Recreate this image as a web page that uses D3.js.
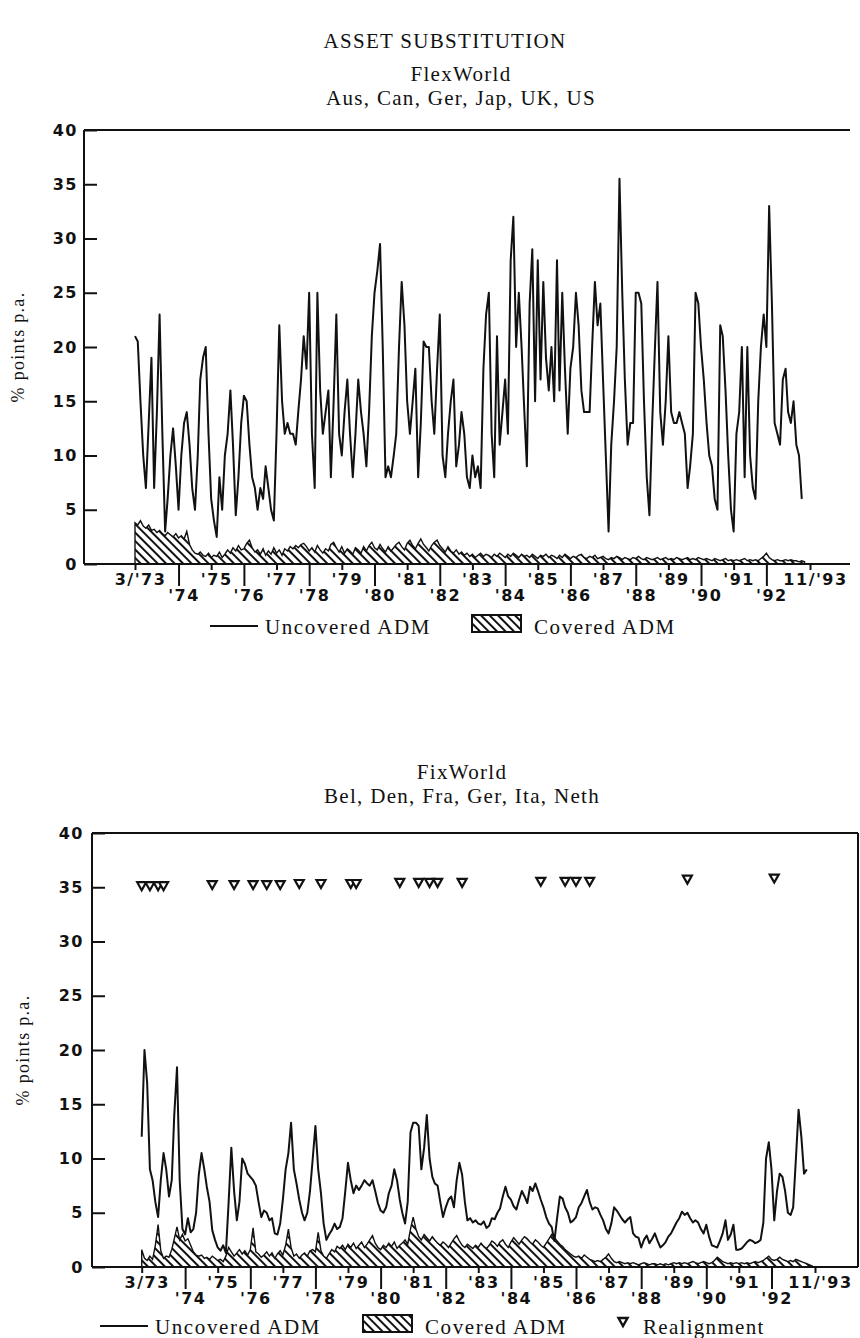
<!DOCTYPE html>
<meta charset="utf-8">
<script src="https://cdn.jsdelivr.net/npm/d3@7"></script>
<style>
body { margin: 0; background: #fff; }
text { fill: #111; }
.serif { font-family: "Liberation Serif", "Times New Roman", serif; }
.tick text, .ylab {
  font-family: "DejaVu Sans", sans-serif;
  font-weight: bold;
  font-size: 16px;
  letter-spacing: 1.5px;
}
.tick line { stroke: #111; stroke-width: 2; }
</style>
<body>
<div id="chart"></div>
<script>
// ---- data (monthly, starting 3/73) ----
var yTicks = [0, 5, 10, 15, 20, 25, 30, 35, 40];
var evenYears = [1974, 1976, 1978, 1980, 1982, 1984, 1986, 1988, 1990, 1992];
var oddYears = [1975, 1977, 1979, 1981, 1983, 1985, 1987, 1989, 1991];

var flexUncovered = [21,20.5,15,10,7,13,19,7,14,23,
  12,3,6,10,12.5,9,5,10,13,14,
  11,7,5,10,17,19,20,12,6,4,
  2.5,8,5,10,12,16,11,4.5,8,13,
  15.5,15,11,8,7,5,7,6,9,7,
  5,4,12,22,15,12,13,12,12,11,
  14,17,21,18,25,12,7,25,16,12,
  14,16,8,15,23,12,10,14,17,12,
  8,12,17,14,12,9,14,21,25,27,
  29.5,20,8,9,8,10,12,20,26,22,
  15,12,15,18,8,13,20.5,20,20,15,
  12,18,23,10,8,12,15,17,9,11,
  14,12,8,7,10,8,9,7,18,23,
  25,12,8,21,11,14,17,12,28,32,
  20,25,20,14,9,24,29,15,28,17,
  26,19,16,20,15,28,16,25,18,12,
  18,20,25,22,16,14,14,14,20,26,
  22,24,17,10,3,11,15,20,35.5,25,
  17,11,13,13,25,25,24,15,8,4.5,
  13,20,26,14,11,15,21,14,13,13,
  14,13,12,7,9,12,25,24,20,17,
  13,10,9,6,5,22,21,16,10,5,
  3,12,14,20,8,20,10,7,6,15,
  20,23,20,33,24,13,12,11,17,18,
  14,13,15,11,10,6];

var flexCovered = [3.8,3.6,4.0,3.5,3.3,3.6,3.1,3.2,2.9,3.1,
  2.8,2.6,2.9,2.7,2.5,2.8,2.4,2.6,2.3,3.0,
  1.8,1.3,1.0,0.9,1.1,0.8,0.7,1.0,0.6,0.8,
  0.7,1.1,0.6,0.9,1.3,1.0,1.5,1.2,1.7,1.3,
  1.4,1.9,2.2,1.5,1.1,1.3,0.9,1.4,0.8,1.2,
  0.9,1.5,1.0,1.3,0.8,1.4,1.2,1.6,1.4,1.7,
  1.5,1.8,1.9,1.6,1.2,1.5,1.1,1.7,1.3,1.0,
  1.4,1.2,1.8,2.0,1.5,1.1,1.6,1.0,1.4,1.2,
  0.9,1.5,1.3,1.0,1.6,1.2,1.7,2.0,1.5,1.3,
  1.8,1.4,1.1,1.6,1.2,1.5,1.8,2.0,1.6,1.3,
  1.9,2.2,1.7,1.4,1.9,2.3,1.8,1.5,1.2,1.7,
  2.0,2.2,1.7,1.4,1.1,1.6,1.2,1.0,1.3,0.9,
  1.1,0.8,1.0,0.7,0.9,0.6,0.8,1.0,0.7,0.9,
  0.8,0.6,0.9,0.7,1.0,0.8,0.6,0.9,0.7,1.0,
  0.8,0.6,0.9,0.7,0.8,0.6,0.9,0.7,0.5,0.8,
  0.7,0.9,0.6,0.8,0.7,0.5,0.8,0.6,0.9,0.7,
  0.5,0.7,0.6,0.8,0.9,0.6,0.5,0.7,0.6,0.8,
  0.5,0.6,0.7,0.5,0.4,0.6,0.5,0.7,0.6,0.4,
  0.6,0.5,0.4,0.6,0.5,0.7,0.5,0.4,0.6,0.5,
  0.4,0.5,0.6,0.4,0.5,0.6,0.4,0.5,0.4,0.6,
  0.5,0.4,0.5,0.6,0.4,0.5,0.4,0.6,0.5,0.4,
  0.5,0.4,0.3,0.5,0.4,0.3,0.4,0.5,0.3,0.4,
  0.3,0.4,0.3,0.4,0.5,0.3,0.4,0.3,0.4,0.3,
  0.5,0.7,1.0,0.6,0.4,0.3,0.4,0.3,0.3,0.4,
  0.3,0.4,0.3,0.3,0.2,0.3,0.2];

var fixUncovered = [12,20,17,9,8,6,4.6,8,10.5,9,
  6.5,8,14,18.4,8,3.5,3,4.5,3.2,3.5,
  5,8.5,10.5,9,7.4,6,3.4,2.5,1.8,1.5,
  2,1.3,6,11,7,4.3,6,10,9.5,8.6,
  8.3,8,7.5,6,4.6,5.2,5,4.3,4.5,3.1,
  3,4,6.2,9,10.5,13.3,9,7.7,6.2,5,
  4.3,5,7,10,13,9,6.8,4,2.5,3,
  3.4,4,3.5,3.7,4.5,7,9.6,8,6.8,7.5,
  7.1,7.5,8,7.7,7.5,8,7,5.9,5.2,5,
  5.5,6.8,7.5,9,8,6.2,5,4,6,12.4,
  13.3,13.3,13,9,11,14,10,8.3,7.7,7.5,
  6,4.6,5.5,6.2,6.5,5.5,8,9.6,8.5,6,
  4.3,4.5,4.1,4.3,4,3.9,4.2,3.6,3.8,4.5,
  4.4,5,5.4,6.5,7.4,6.5,6.2,5.6,5.3,6.2,
  7,6.5,5.9,7.4,7,7.7,7,6.2,5.5,4.6,
  4,3.7,2.4,4.5,6.5,6.3,5.5,5,4.1,4.3,
  4.6,5.5,5.9,6.5,7.1,6,5.3,5.5,5.4,4.8,
  4.3,3.5,3.1,4,5.5,5.2,4.8,4.4,4.1,4.4,
  4.6,3.1,2.8,2.7,1.8,2.5,2.9,2.2,2.6,3.1,
  2.4,1.8,2,2.3,2.8,3.1,3.6,4.1,4.5,5.1,
  4.8,5,4.5,4.1,4.3,4.1,3.5,3.1,3.9,2.8,
  2,1.9,1.8,2.4,3.1,4.3,2.5,3,3.9,1.6,
  1.6,1.7,2,2.3,2.5,2.4,2.2,2.3,2.5,4.1,
  10,11.5,9,4.3,7,8.6,8.3,7,5,4.8,
  5.5,10,14.5,12,8.6,9];

var fixCovered = [1.6,0.8,0.6,1.0,0.7,2.0,3.9,1.5,0.8,1.0,
  0.9,1.6,2.6,3.7,2.5,3.0,2.4,2.6,2.0,1.4,
  1.1,1.0,1.1,0.8,0.9,0.7,1.0,0.8,0.6,0.7,
  0.5,1.0,1.8,1.4,1.0,1.3,1.6,1.2,1.5,1.1,
  1.6,3.6,1.4,1.2,0.9,1.1,1.4,1.0,1.3,0.8,
  1.2,1.5,1.1,2.0,3.5,1.8,1.0,1.2,0.8,1.1,
  1.3,1.0,1.5,1.6,1.4,3.2,1.5,1.0,0.8,1.2,
  1.6,1.4,1.9,1.7,2.0,1.6,2.1,1.8,2.2,1.7,
  2.0,2.3,1.8,2.1,2.5,2.9,2.2,1.8,1.6,2.0,
  1.8,2.2,1.9,2.3,1.7,2.0,2.2,2.5,2.1,3.5,
  4.6,3.5,2.8,2.5,3.0,2.7,2.4,2.8,2.5,2.2,
  2.0,2.3,2.1,1.8,2.2,2.6,2.9,2.4,2.0,1.8,
  2.1,1.9,1.7,2.0,1.8,2.2,1.9,1.7,2.0,2.4,
  2.2,1.9,2.3,2.5,2.1,1.8,2.3,2.7,2.4,2.1,
  2.5,2.8,2.6,2.3,2.1,2.5,2.3,2.0,1.8,2.2,
  2.6,3.0,2.7,2.4,2.1,1.9,1.6,1.4,1.2,1.0,
  0.9,1.0,0.8,1.1,0.9,0.7,0.6,0.5,0.6,0.5,
  0.7,0.9,1.2,0.8,0.5,0.4,0.5,0.4,0.3,0.4,
  0.3,0.4,0.3,0.2,0.3,0.4,0.3,0.2,0.3,0.3,
  0.2,0.3,0.2,0.3,0.2,0.3,0.4,0.3,0.4,0.3,
  0.4,0.3,0.4,0.5,0.4,0.3,0.4,0.5,0.4,0.3,
  0.4,0.6,0.9,0.7,0.5,0.4,0.3,0.4,0.3,0.4,
  0.3,0.4,0.3,0.4,0.3,0.4,0.5,0.4,0.5,0.6,
  0.8,1.0,0.7,0.6,0.7,0.9,0.7,0.6,0.5,0.6,
  0.5,0.7,0.6,0.5,0.4,0.3,0.2,0.1];

var realignDates = ["1973-03","1973-06","1973-09","1973-11","1975-05","1976-01",
  "1976-08","1977-01","1977-06","1978-01","1978-09","1979-08","1979-10",
  "1981-02","1981-09","1982-01","1982-04","1983-01","1985-06","1986-03",
  "1986-07","1986-12","1989-12","1992-08"];
var realignLevel = [35.1,35.1,35.1,35.1,35.2,35.2,35.2,35.2,35.2,35.3,35.3,35.3,35.3,
  35.4,35.4,35.4,35.4,35.4,35.5,35.5,35.5,35.5,35.7,35.8];

// ---- helpers ----
var startDate = new Date(1973, 2, 1), endDate = new Date(1993, 10, 1);
function monthDate(i) { return new Date(1973, 2 + i, 1); }
function yrLabel(y) { return "'" + String(y).slice(2); }
var parseMonth = d3.timeParse("%Y-%m");
var triPath = "M-4.5,-4L4.5,-4L0,4Z";

var svg = d3.select("#chart").append("svg")
  .attr("width", 860).attr("height", 1338);

svg.append("defs").append("pattern")
  .attr("id", "hatch")
  .attr("patternUnits", "userSpaceOnUse")
  .attr("width", 6).attr("height", 6)
  .attr("patternTransform", "rotate(-45)")
  .append("rect").attr("width", 2).attr("height", 6).attr("fill", "#111");

svg.append("text").attr("class", "serif")
  .attr("x", 445).attr("y", 48).attr("text-anchor", "middle")
  .style("font-size", "21px").style("letter-spacing", "1.3px")
  .text("ASSET SUBSTITUTION");

function panel(p) {
  var x = d3.scaleTime().domain([startDate, endDate]).range([p.x0, p.x1]);
  var y = d3.scaleLinear().domain([0, 40]).range([p.yBase, p.yTop]);
  var g = svg.append("g");

  // titles
  p.titles.forEach(function(t, i) {
    g.append("text").attr("class", "serif")
      .attr("x", p.titleX).attr("y", p.titleY + i * 24)
      .attr("text-anchor", "middle")
      .style("font-size", "21px").style("letter-spacing", "1.3px")
      .text(t);
  });

  // y title
  g.append("text").attr("class", "serif")
    .attr("transform", "translate(" + p.yTitleX + "," + ((p.yBase + p.yTop) / 2) + ") rotate(-90)")
    .attr("text-anchor", "middle")
    .style("font-size", "18px").style("letter-spacing", "1.3px")
    .text("% points p.a.");

  // frame
  g.append("line").attr("x1", p.left).attr("x2", p.left)
    .attr("y1", p.yTop).attr("y2", p.yBase)
    .attr("stroke", "#111").attr("stroke-width", 2);
  g.append("line").attr("x1", p.left).attr("x2", p.right)
    .attr("y1", p.yTop).attr("y2", p.yTop)
    .attr("stroke", "#111").attr("stroke-width", 2);
  if (p.rightBorder) {
    g.append("line").attr("x1", p.right).attr("x2", p.right)
      .attr("y1", p.yTop).attr("y2", p.yBase)
      .attr("stroke", "#111").attr("stroke-width", 2);
  }

  // covered ADM (hatched area)
  var cov = p.covered.map(function(v, i) { return { date: monthDate(i), v: v }; });
  g.append("path").datum(cov)
    .attr("d", d3.area().x(function(d) { return x(d.date); })
      .y0(y(0)).y1(function(d) { return y(d.v); }))
    .attr("fill", "url(#hatch)")
    .attr("stroke", "#111").attr("stroke-width", 1.4);

  // uncovered ADM line
  var unc = p.uncovered.map(function(v, i) { return { date: monthDate(i), v: v }; });
  g.append("path").datum(unc)
    .attr("d", d3.line().x(function(d) { return x(d.date); })
      .y(function(d) { return y(d.v); }))
    .attr("fill", "none").attr("stroke", "#111")
    .attr("stroke-width", 2).attr("stroke-linejoin", "round");

  // realignment markers
  if (p.markers) {
    g.selectAll(".re").data(realignDates).enter().append("path")
      .attr("class", "re")
      .attr("transform", function(d, i) {
        return "translate(" + x(parseMonth(d)) + "," + y(realignLevel[i]) + ")";
      })
      .attr("d", triPath)
      .attr("fill", "#fff").attr("stroke", "#111").attr("stroke-width", 2.2);
  }

  // y axis (ticks pointing inward)
  g.append("g").attr("transform", "translate(" + p.left + ",0)")
    .call(d3.axisLeft(y).tickValues(yTicks).tickSize(-13).tickPadding(p.yPad))
    .call(function(a) { a.select(".domain").remove(); });

  // x baseline
  g.append("line").attr("x1", p.left).attr("x2", p.right)
    .attr("y1", p.yBase).attr("y2", p.yBase)
    .attr("stroke", "#111").attr("stroke-width", 2);

  // x axis: short ticks (start, odd years, end), long ticks (even years)
  var shortTicks = [startDate].concat(oddYears.map(function(yv) { return new Date(yv, 6, 1); }), [endDate]);
  var shortLabels = [p.startLabel].concat(oddYears.map(yrLabel), ["11/'93"]);
  var longTicks = evenYears.map(function(yv) { return new Date(yv, 6, 1); });

  g.append("g").attr("transform", "translate(0," + p.yBase + ")")
    .call(d3.axisBottom(x).tickValues(shortTicks).tickSize(6).tickPadding(4)
      .tickFormat(function(d, i) { return shortLabels[i]; }))
    .call(function(a) { a.select(".domain").remove(); a.selectAll("text").attr("dx", 5); });

  g.append("g").attr("transform", "translate(0," + p.yBase + ")")
    .call(d3.axisBottom(x).tickValues(longTicks).tickSize(22).tickPadding(4)
      .tickFormat(function(d) { return yrLabel(d.getFullYear()); }))
    .call(function(a) { a.select(".domain").remove(); a.selectAll("text").attr("dx", 5); });

  // legend
  var L = p.legend;
  g.append("line").attr("x1", L.lineX).attr("x2", L.lineX + 48)
    .attr("y1", L.y - 8).attr("y2", L.y - 8)
    .attr("stroke", "#111").attr("stroke-width", 2);
  g.append("text").attr("class", "serif").attr("x", L.lineX + 55).attr("y", L.y)
    .style("font-size", "21px").style("letter-spacing", "1.6px")
    .text("Uncovered ADM");
  g.append("rect").attr("x", L.boxX).attr("y", L.y - 19)
    .attr("width", 49).attr("height", 17)
    .attr("fill", "url(#hatch)").attr("stroke", "#111").attr("stroke-width", 2);
  g.append("text").attr("class", "serif").attr("x", L.boxX + 62).attr("y", L.y)
    .style("font-size", "21px").style("letter-spacing", "1.6px")
    .text("Covered ADM");
  if (L.triX) {
    g.append("path").attr("transform", "translate(" + L.triX + "," + (L.y - 12) + ")")
      .attr("d", triPath)
      .attr("fill", "#fff").attr("stroke", "#111").attr("stroke-width", 2.4);
    g.append("text").attr("class", "serif").attr("x", L.triX + 20).attr("y", L.y)
      .style("font-size", "21px").style("letter-spacing", "1.3px")
      .text("Realignment");
  }
}

panel({
  titles: ["FlexWorld", "Aus, Can, Ger, Jap, UK, US"], titleX: 461, titleY: 81,
  left: 84, right: 850, x0: 135, x1: 810, yTop: 130, yBase: 564,
  yTitleX: 24, yPad: 6, rightBorder: false,
  uncovered: flexUncovered, covered: flexCovered, startLabel: "3/'73",
  markers: false,
  legend: { y: 634, lineX: 210, boxX: 472 }
});

panel({
  titles: ["FixWorld", "Bel, Den, Fra, Ger, Ita, Neth"], titleX: 462, titleY: 779,
  left: 92, right: 858, x0: 141.7, x1: 815, yTop: 833, yBase: 1267,
  yTitleX: 29, yPad: 8, rightBorder: true,
  uncovered: fixUncovered, covered: fixCovered, startLabel: "3/73",
  markers: true,
  legend: { y: 1334, lineX: 100, boxX: 363, triX: 623 }
});
</script>
</body>
</html>
